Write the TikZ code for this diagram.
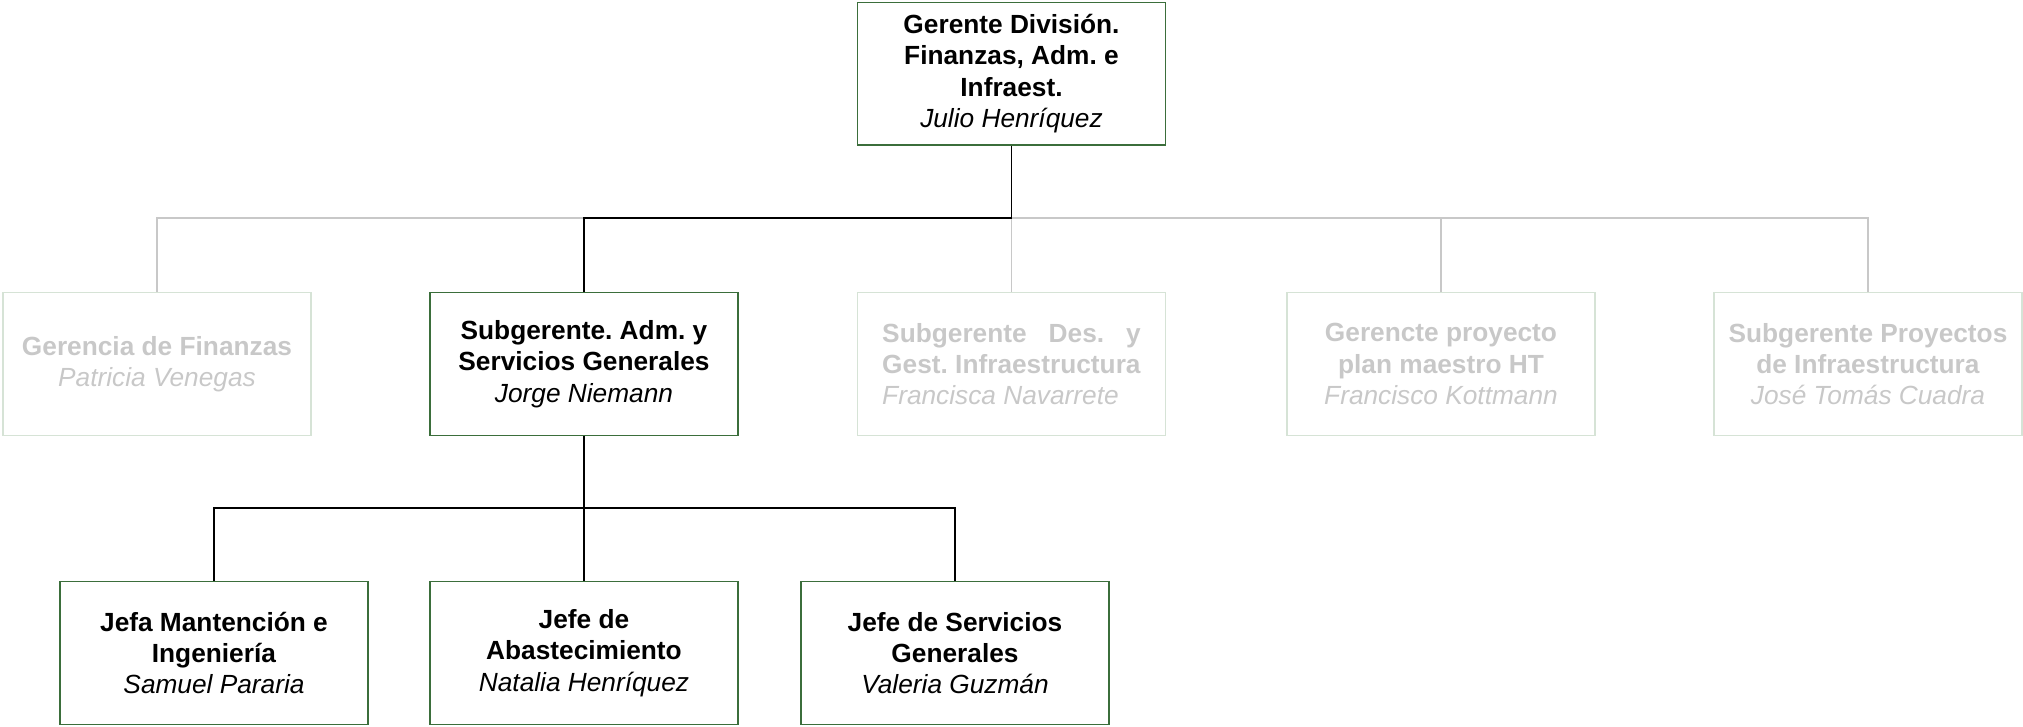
\documentclass[tikz,border=0pt]{standalone}
\usepackage{fontspec}
\setmainfont{Liberation Sans}
\usepackage{calc}
\frenchspacing

\definecolor{boxgreen}{HTML}{3B6E3B}
\definecolor{palegreen}{HTML}{D6E3D6}
\definecolor{palegrey}{HTML}{C8C8C8}

\tikzset{
  unit/.style={draw=boxgreen, line width=1pt, minimum width=231pt, minimum height=107pt,
    align=center, inner sep=0pt, font=\fontsize{19.7}{23.5}\selectfont},
  paleunit/.style={unit, draw=palegreen, text=palegrey},
  link/.style={line width=1.4pt},
  palelink/.style={link, draw=palegrey}
}

\begin{document}
\begin{tikzpicture}[x=0.75pt, y=-0.75pt]

  \useasboundingbox (0,0) rectangle (2023,726);

  \coordinate (c0) at (1011.5, 73.5);
  \coordinate (bus1) at (1011.5, 218);
  \coordinate (bus2) at (584, 508);

  % level 0
  \node[unit] (gerente) at (c0) {\textbf{Gerente División.}\\\textbf{Finanzas, Adm. e}\\\textbf{Infraest.}\\\textit{Julio Henríquez}};

  % level 1
  \node[paleunit] (finanzas) at (157, 364) {\textbf{Gerencia de Finanzas}\\\textit{Patricia Venegas}};
  \node[unit] (subadm) at (584, 364) {\textbf{Subgerente. Adm. y}\\\textbf{Servicios Generales}\\\textit{Jorge Niemann}};
  \node[paleunit, align=left] (subdes) at (1011.5, 364) {\makebox[\widthof{\textbf{Gest. Infraestructura}}][s]{\textbf{Subgerente Des. y}}\\\textbf{Gest. Infraestructura}\\\textit{Francisca Navarrete}};
  \node[paleunit] (plan) at (1441, 364) {\textbf{Gerencte proyecto}\\\textbf{plan maestro HT}\\\textit{Francisco Kottmann}};
  \node[paleunit] (subproy) at (1868, 364) {\textbf{Subgerente Proyectos}\\\textbf{de Infraestructura}\\\textit{José Tomás Cuadra}};

  % level 2
  \node[unit] (mant) at (214, 653) {\textbf{Jefa Mantención e}\\\textbf{Ingeniería}\\\textit{Samuel Pararia}};
  \node[unit] (abast) at (584, 653) {\textbf{Jefe de}\\\textbf{Abastecimiento}\\\textit{Natalia Henríquez}};
  \node[unit] (servgen) at (955, 653) {\textbf{Jefe de Servicios}\\\textbf{Generales}\\\textit{Valeria Guzmán}};

  % faded branches
  \draw[palelink] (bus1) -| (finanzas.north);
  \draw[palelink] (bus1) -- (subdes.north);
  \draw[palelink] (bus1) -| (plan.north);
  \draw[palelink] (bus1) -| (subproy.north);

  % active branch
  \draw[link] (gerente.south) -- (bus1) -| (subadm.north);
  \draw[link] (subadm.south) -- (bus2) -| (mant.north);
  \draw[link] (bus2) -- (abast.north);
  \draw[link] (bus2) -| (servgen.north);

\end{tikzpicture}
\end{document}
